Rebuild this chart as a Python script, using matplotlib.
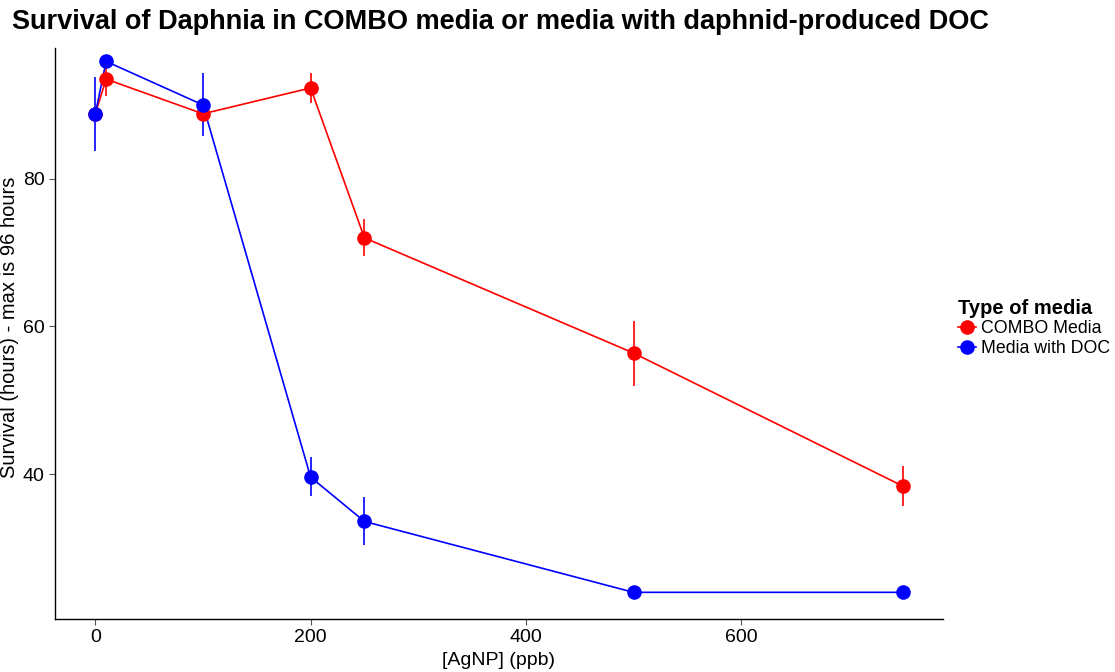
import matplotlib.pyplot as plt
from matplotlib.lines import Line2D

plt.rcParams['font.family'] = ['Liberation Sans', 'DejaVu Sans']

conc = [0, 10, 100, 200, 250, 500, 750]

combo_mean = [88.8, 93.5, 88.8, 92.3, 72.0, 56.4, 38.4]
combo_lo = [88.8, 91.2, 88.8, 90.3, 69.5, 52.0, 35.7]
combo_hi = [88.8, 95.7, 88.8, 94.3, 74.5, 60.8, 41.1]

doc_mean = [88.8, 95.9, 90.0, 39.6, 33.6, 24.0, 24.0]
doc_lo = [83.8, 95.2, 85.8, 37.0, 30.4, 24.0, 24.0]
doc_hi = [93.8, 96.5, 94.3, 42.3, 36.9, 24.0, 24.0]

series = [
    ("COMBO Media", "#ff0000", combo_mean, combo_lo, combo_hi),
    ("Media with DOC", "#0000ff", doc_mean, doc_lo, doc_hi),
]

fig = plt.figure(figsize=(11.15, 6.72), dpi=100)
ax = fig.add_axes([0.0493, 0.079, 0.7964, 0.850])

for name, col, m, lo, hi in series:
    ax.vlines(conc, lo, hi, color=col, lw=1.2, zorder=2)
    ax.plot(conc, m, color=col, lw=1.2, zorder=3)
    ax.plot(conc, m, 'o', color=col, ms=10.5, mec='none', zorder=4)

ax.set_xlim(-37.5, 787.5)
ax.set_ylim(20.4, 97.75)
ax.set_xticks([0, 200, 400, 600])
ax.set_yticks([40, 60, 80])

for s in ['top', 'right']:
    ax.spines[s].set_visible(False)
for s in ['left', 'bottom']:
    ax.spines[s].set_color('black')
    ax.spines[s].set_linewidth(1.0)
ax.tick_params(labelsize=14, colors='#555555', length=4, width=0.8, labelcolor='black')

ax.set_xlabel('[AgNP] (ppb)', fontsize=14, labelpad=4)
fig.text(0.0, 0.513, 'Survival (hours) - max is 96 hours', fontsize=14.5,
         rotation=90, ha='left', va='center')
fig.text(0.011, 0.967, 'Survival of Daphnia in COMBO media or media with daphnid-produced DOC',
         fontsize=19.5, fontweight='bold', va='center', ha='left')

handles = [Line2D([0], [0], color=c, lw=1.2, marker='o', ms=10.5, mec='none')
           for _, c, *_ in series]
leg = fig.legend(handles, [s[0] for s in series], title='Type of media',
                 loc='center left', bbox_to_anchor=(0.859, 0.512), frameon=False,
                 fontsize=12.8, title_fontproperties={'weight': 'bold', 'size': 14.5},
                 handlelength=1.0, handletextpad=0.3, labelspacing=0.15,
                 borderaxespad=0, borderpad=0)
leg._legend_box.align = 'left'

fig.savefig('out.png', dpi=100)
